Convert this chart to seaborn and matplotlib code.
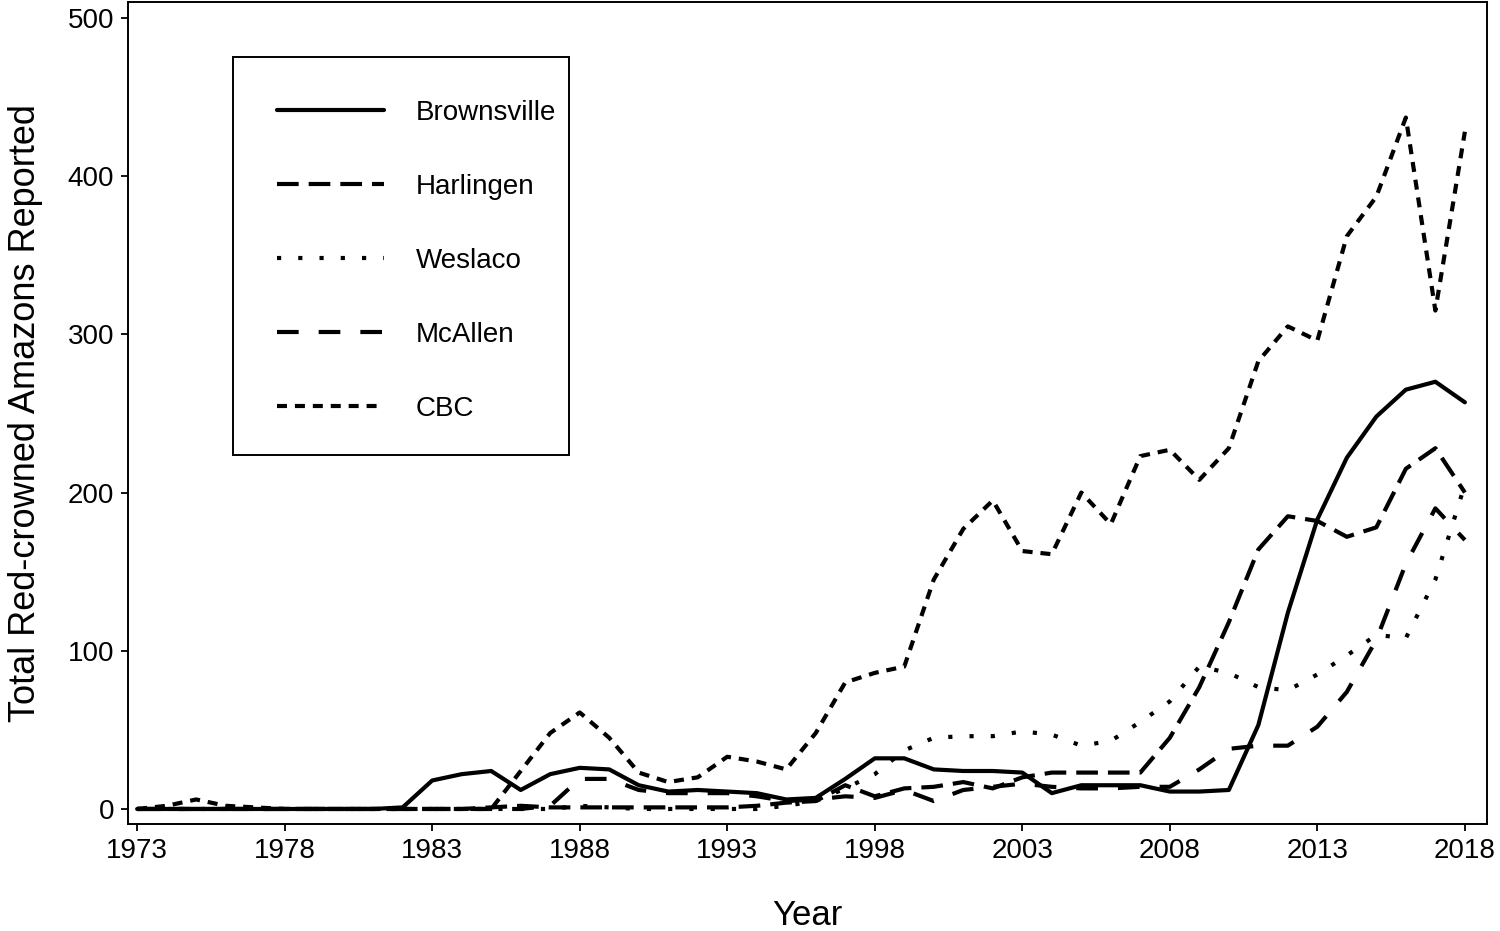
import numpy as np
import pandas as pd
import matplotlib
matplotlib.use("Agg")
import matplotlib.pyplot as plt
from matplotlib.lines import Line2D
from matplotlib.patches import Rectangle
import seaborn as sns

years = list(range(1973, 2019))

brownsville = [0, 0, 0, 0, 0, 0, 0, 0, 0, 1,
               18, 22, 24, 12, 22, 26, 25, 15, 11, 12,
               11, 10, 6, 7, 19, 32, 32, 25, 24, 24,
               23, 10, 15, 15, 15, 11, 11, 12, 53, 124,
               183, 222, 248, 265, 270, 257]
harlingen = [0, 0, 0, 0, 0, 0, 0, 0, 0, 0,
             0, 0, 1, 2, 1, 1, 1, 1, 1, 1,
             1, 2, 4, 5, 15, 8, 13, 14, 17, 13,
             20, 23, 23, 23, 23, 45, 77, 118, 164, 185,
             182, 172, 178, 215, 228, 200]
weslaco = [0, 0, 0, 0, 0, 0, 0, 0, 0, 0,
           0, 0, 0, 0, 0, 2, 1, 0, 0, 0,
           0, 0, 2, 5, 13, 22, 37, 45, 46, 46,
           49, 47, 40, 43, 55, 68, 90, 86, 77, 75,
           85, 97, 110, 108, 145, 205]
mcallen = [0, 0, 0, 0, 0, 0, 0, 0, 0, 0,
           0, 0, 0, 0, 2, 19, 19, 12, 10, 10,
           10, 8, 5, 6, 8, 7, 12, 5, 12, 14,
           16, 14, 13, 13, 14, 14, 25, 38, 40, 40,
           52, 74, 107, 155, 190, 170]
cbc = [0, 2, 6, 2, 1, 0, 0, 0, 0, 0,
       0, 0, 0, 24, 48, 61, 45, 23, 17, 20,
       33, 30, 25, 48, 80, 86, 90, 145, 177, 195,
       163, 161, 200, 180, 223, 227, 208, 228, 283, 305,
       296, 362, 387, 437, 315, 428]

sites = ["Brownsville", "Harlingen", "Weslaco", "McAllen", "CBC"]
series = [brownsville, harlingen, weslaco, mcallen, cbc]
xticks = list(range(1973, 2019, 5))
yticks = [0, 100, 200, 300, 400, 500]

df = pd.concat([pd.DataFrame({"Year": years, "Count": vals, "Site": name})
                for name, vals in zip(sites, series)], ignore_index=True)

sns.set_theme(style="ticks")
plt.rcParams['font.family'] = ['Liberation Sans', 'DejaVu Sans']
plt.rcParams['text.color'] = 'black'
plt.rcParams['axes.labelcolor'] = 'black'
plt.rcParams['xtick.color'] = 'black'
plt.rcParams['ytick.color'] = 'black'

W, H = 1500, 931
fig = plt.figure(figsize=(W / 100, H / 100), dpi=100)
ax = fig.add_axes([128 / W, 1 - 824 / H, (1487 - 128) / W, (824 - 2) / H])

LW = 3.0
dash_map = {"Brownsville": "", "Harlingen": (5.2, 2.4), "Weslaco": (1.0, 4.1),
            "McAllen": (5.2, 4.8), "CBC": (2.4, 1.9)}

sns.lineplot(data=df, x="Year", y="Count", style="Site", style_order=sites,
             dashes=dash_map, color="black", linewidth=LW, ax=ax, legend=False)

ax.set_xlim(1972.69, 2018.75)
ax.set_ylim(-9.5, 510)
ax.set_xticks(xticks)
ax.set_xticklabels([str(t) for t in xticks])
ax.set_yticks(yticks)
ax.tick_params(axis="both", direction="out", length=5, width=1.3, color="black",
               labelsize=20, labelcolor="black", pad=5)
for sp in ax.spines.values():
    sp.set_visible(True)
    sp.set_color("black")
    sp.set_linewidth(1.4)

ax.set_xlabel("Year", fontsize=25, labelpad=25, color="black")
ax.set_ylabel("Total Red-crowned Amazons Reported", fontsize=26, labelpad=18, color="black")

handles = []
for s in sites:
    if dash_map[s] == "":
        h = Line2D([], [], color="black", lw=LW, linestyle="-")
    else:
        h = Line2D([], [], color="black", lw=LW, dashes=dash_map[s])
    handles.append(h)

leg = ax.legend(handles, sites, loc="upper left",
                bbox_to_anchor=(277 / W, 1 - 100 / H), bbox_transform=fig.transFigure,
                frameon=False, fontsize=20, handlelength=3.85, handletextpad=1.15,
                labelspacing=1.73, borderpad=0, borderaxespad=0)
for t in leg.get_texts():
    t.set_color("black")

fig.add_artist(Rectangle((233 / W, 1 - 455 / H), (569 - 233) / W, (455 - 57) / H,
                         transform=fig.transFigure, fill=False, lw=1.4, ec="black"))

fig.savefig("out.png", dpi=100)
